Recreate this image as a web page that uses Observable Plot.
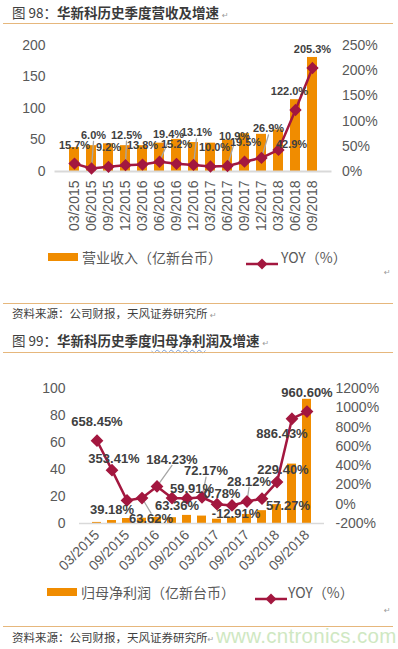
<!DOCTYPE html>
<html><head><meta charset="utf-8">
<script src="https://cdn.jsdelivr.net/npm/d3@7"></script>
<script src="https://cdn.jsdelivr.net/npm/@observablehq/plot@0.6"></script>
<style>
html,body{margin:0;padding:0;background:#fff;}
body{width:398px;height:649px;position:relative;overflow:hidden;font-family:"Noto Sans CJK SC","Liberation Sans",sans-serif;}
.abs{position:absolute;white-space:nowrap;}
.title{font-size:13.5px;line-height:18px;color:#404040;}
.title b{color:#3a3a3a;font-weight:700;}
.sep{position:absolute;left:3px;width:390px;height:0;border-top:1.5px solid #E6B77C;}
.src{font-size:11.5px;line-height:16px;color:#404040;}
.pm{font-size:8px;color:#9a9a9a;font-family:"DejaVu Sans",sans-serif;}
.leg{font-size:14px;line-height:18px;color:#595959;}
.wavy{text-decoration:underline wavy #7b9fd4;text-decoration-thickness:1px;text-underline-offset:3px;}
.wm{font-family:"Liberation Sans",Arial,sans-serif;font-size:20.5px;color:#cfe8c2;letter-spacing:0.3px;}
</style></head>
<body>
<script>
// ---------- data ----------
const quarters = ["03/2015","06/2015","09/2015","12/2015","03/2016","06/2016","09/2016","12/2016",
                  "03/2017","06/2017","09/2017","12/2017","03/2018","06/2018","09/2018"];
const revenue = [38, 41, 44, 41, 41, 45, 51, 46, 45, 50, 60, 59, 66, 114, 181];
const revenueYoY = [15.7, 6.0, 9.2, 12.5, 13.8, 19.4, 15.2, 13.1, 10.0, 10.9, 19.5, 26.9, 42.9, 122.0, 205.3];
const netProfit = [0.8, 2.2, 3.7, 3.9, 4.5, 4.3, 6.0, 5.5, 3.2, 4.3, 6.7, 9.5, 14, 44, 92];
const profitYoY = [658.45, 353.41, 39.18, 63.62, 184.23, 63.36, 59.91, 72.17, 0.78, -12.91, 28.12, 57.27, 229.40, 886.43, 960.60];
const leftTicks1 = [0, 50, 100, 150, 200];
const rightTicks1 = [0, 50, 100, 150, 200, 250];
const leftTicks2 = [0, 20, 40, 60, 80, 100];
const rightTicks2 = [-200, 0, 200, 400, 600, 800, 1000, 1200];
const xTicks2 = ["03/2015","09/2015","03/2016","09/2016","03/2017","09/2017","03/2018","09/2018"];

// ---------- label placement (style: px nudges, like Excel label positions) ----------
const nudge1 = [[0,-18],[2,-33],[0,-19],[1,-30],[0,-19],[9,-27],[0,-19],[3,-32],[4,-19],[7,-30],[1,-19],[7,-29],[13,-5],[-6,-19],[0,-19]];
const leaders1 = [1,3,5,7,9,11];
const nudge2 = [[0,-19],[2,-11],[-15,9],[9,21],[15,-27],[5,8],[5,-10],[4,-26],[5,-10],[4,8],[2,-20],[26,7],[6,-12],[-10,15],[0,-19]];
const leaders2 = [3,4,7,10];

const ORANGE = "#F08C00", RED = "#A3173F", AXIS = "#595959", LBL = "#404040";
const FONT = "'Liberation Sans', Arial, sans-serif";
const lineShape = {draw(context, l) { context.moveTo(0, 0); context.lineTo(0, -l); }};

function leaderMarks(rows, nudge, leaders) {
  const marks = [];
  rows.forEach((r, i) => {
    if (!leaders.includes(i)) return;
    const [dx, dy] = nudge[i];
    const ty = dy + (dy < 0 ? 6 : -6);
    const len = Math.hypot(dx, ty);
    const ang = Math.atan2(dx, -ty);
    const gap = 4;
    marks.push(Plot.vector([r], {x: "q", y: "ly", length: Math.max(1, len - gap), rotate: ang * 180 / Math.PI,
      anchor: "start", dx: gap * Math.sin(ang), dy: -gap * Math.cos(ang), shape: lineShape,
      stroke: "#a6a6a6", strokeWidth: 1.3}));
  });
  return marks;
}
function textMarks(rows, nudge, fontSize) {
  return rows.map((r, i) => Plot.text([r], {x: "q", y: "ly", text: "t", dx: nudge[i][0], dy: nudge[i][1],
    fill: LBL, fontSize, fontWeight: "bold", fontFamily: FONT}));
}

// ---------- chart 1 ----------
const k1 = 200 / 250; // right-axis % -> left scale
const rows1 = quarters.map((q, i) => ({q, v: revenue[i], ly: revenueYoY[i] * k1, t: revenueYoY[i].toFixed(1) + "%"}));
const c1 = Plot.plot({
  width: 398, height: 210,
  marginLeft: 54.5, marginRight: 66.5, marginTop: 15, marginBottom: 69,
  style: {fontFamily: FONT, fontSize: "14px", background: "transparent", color: AXIS},
  x: {type: "band", domain: quarters, padding: 0.39, label: null},
  y: {domain: [0, 200], label: null},
  marks: [
    Plot.barY(rows1, {x: "q", y: "v", fill: ORANGE}),
    Plot.ruleY([0], {stroke: "#d9d9d9", strokeWidth: 2}),
    ...leaderMarks(rows1, nudge1, leaders1),
    Plot.lineY(rows1, {x: "q", y: "ly", stroke: RED, strokeWidth: 2.5}),
    Plot.dot(rows1, {x: "q", y: "ly", symbol: "diamond2", r: 4.6, fill: RED, stroke: RED}),
    ...textMarks(rows1, nudge1, 11),
    Plot.axisY(leftTicks1, {anchor: "left", tickSize: 0, tickPadding: 9.5, label: null, color: AXIS, fontSize: 14}),
    Plot.axisY(rightTicks1.map(t => t * k1), {anchor: "right", tickSize: 0, tickPadding: 10, label: null, color: AXIS, fontSize: 14,
      tickFormat: d => Math.round(d / k1) + "%"}),
    Plot.axisX({tickRotate: -90, tickSize: 0, tickPadding: 9, label: null, color: AXIS, fontSize: 14})
  ]
});

// ---------- chart 2 ----------
const toLeft2 = p => (p + 200) / 14; // right-axis % -> left scale
const rows2 = quarters.map((q, i) => ({q, v: netProfit[i], ly: toLeft2(profitYoY[i]), t: profitYoY[i].toFixed(2) + "%"}));
const c2 = Plot.plot({
  width: 398, height: 215,
  marginLeft: 79, marginRight: 74, marginTop: 18, marginBottom: 62,
  style: {fontFamily: FONT, fontSize: "14px", background: "transparent", color: AXIS},
  x: {type: "band", domain: quarters, padding: 0.37, label: null},
  y: {domain: [0, 100], label: null},
  marks: [
    Plot.barY(rows2, {x: "q", y: "v", fill: ORANGE}),
    Plot.ruleY([0], {stroke: "#d9d9d9", strokeWidth: 1.5}),
    ...leaderMarks(rows2, nudge2, leaders2),
    Plot.lineY(rows2, {x: "q", y: "ly", stroke: RED, strokeWidth: 2.5}),
    Plot.dot(rows2, {x: "q", y: "ly", symbol: "diamond2", r: 4.8, fill: RED, stroke: RED}),
    ...textMarks(rows2, nudge2, 13),
    Plot.axisY(leftTicks2, {anchor: "left", tickSize: 0, tickPadding: 14, label: null, color: AXIS, fontSize: 14}),
    Plot.axisY(rightTicks2.map(toLeft2), {anchor: "right", tickSize: 0, tickPadding: 11, label: null, color: AXIS, fontSize: 14,
      tickFormat: d => Math.round(d * 14 - 200) + "%"}),
    Plot.axisX(xTicks2, {tickRotate: -45, tickSize: 0, tickPadding: 9, label: null, color: AXIS, fontSize: 14})
  ]
});

function place(el, top, left) { el.style.position = "absolute"; el.style.top = top + "px"; el.style.left = left + "px"; document.body.appendChild(el); }
place(c1, 30, 0);
place(c2, 370, 0);

function html(s, top, left, cls) { const d = document.createElement("div"); d.className = "abs " + (cls || ""); d.innerHTML = s; place(d, top, left); return d; }
function sep(top) { const d = document.createElement("div"); d.className = "sep"; place(d, top, 3); }
function legendLine(top, left) {
  const d = document.createElement("div");
  d.className = "abs";
  d.innerHTML = `<svg width="34" height="12"><line x1="1" y1="6" x2="33" y2="6" stroke="${RED}" stroke-width="2.5"/><path d="M17,0.5L22.5,6L17,11.5L11.5,6Z" fill="${RED}"/></svg>`;
  place(d, top, left);
}
function swatch(top, left) {
  const d = document.createElement("div");
  d.className = "abs"; d.style.width = "30px"; d.style.height = "8px"; d.style.background = ORANGE;
  place(d, top, left);
}

// chart 1 texts
html('图 98：<b>华新科历史季度营收及增速</b> <span class="pm">↵</span>', 3, 12, "title");
sep(23);
swatch(253, 48);
html('营业收入（亿新台币）', 248, 82, "leg");
legendLine(251, 245);
html('YOY（%）', 248, 281, "leg");
html('↵', 268, 384, "pm");
sep(303);
html('资料来源：公司财报，天风证券研究所 <span class="pm">↵</span>', 305, 12, "src");

// chart 2 texts
html('图 99：<b>华新科历史季度<span class="wavy">归母净利</span>润及增速</b> <span class="pm">↵</span>', 331, 12, "title");
sep(352);
swatch(588, 47);
html('归母净利润（亿新台币）', 583, 81, "leg");
legendLine(586, 254);
html('YOY（%）', 583, 288, "leg");
html('↵', 606, 384, "pm");
sep(626);
html('资料来源：公司财报，天风证券研究所<span class="pm">↵</span>', 629, 12, "src");
html('www.cntronics.com', 624, 216, "wm");
</script>
</body></html>
